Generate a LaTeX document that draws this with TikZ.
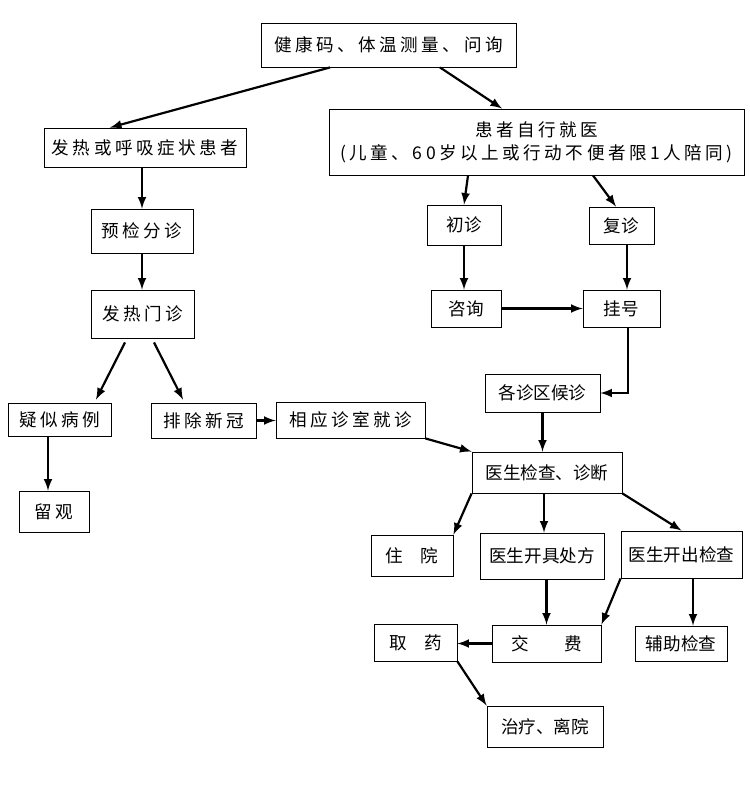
\documentclass[tikz,border=0pt]{standalone}
\usepackage{fontspec}
\setmainfont{Noto Sans CJK SC}
\newfontfamily\cjkwide[LetterSpace=20]{Noto Sans CJK SC}
\usetikzlibrary{arrows}

\begin{document}
\begin{tikzpicture}[x=0.02cm,y=-0.02cm,
  box/.style={draw, line width=0.5pt, inner sep=0pt, font=\fontsize{10pt}{13pt}\selectfont, align=center},
  wbox/.style={box, font=\fontsize{10pt}{13pt}\cjkwide},
  arr/.style={-latex, line width=1.25pt}]

\useasboundingbox (0,0) rectangle (750,791);

% left branch
\node[wbox, minimum width=5.1cm, minimum height=0.88cm] (check) at (388.5,45) {健康码、体温测量、问询};
\node[wbox, minimum width=4.04cm, minimum height=0.78cm] (fever) at (145,147.5) {发热或呼吸症状患者};
\node[wbox, minimum width=2.04cm, minimum height=0.88cm] (triage) at (142,231) {预检分诊};
\node[wbox, minimum width=2.06cm, minimum height=0.96cm] (clinic) at (142.5,314) {发热门诊};
\node[wbox, minimum width=2.06cm, minimum height=0.66cm] (suspect) at (59.5,419.5) {疑似病例};
\node[wbox, minimum width=1.4cm, minimum height=0.82cm] (observe) at (54,511.5) {留观};
\node[wbox, minimum width=2.1cm, minimum height=0.7cm] (exclude) at (203.5,420.5) {排除新冠};
\node[wbox, minimum width=2.98cm, minimum height=0.72cm] (dept) at (350.5,420) {相应诊室就诊};

% right branch
\node[wbox, minimum width=8.3cm, minimum height=1.32cm] (self) at (536.5,142) {患者自行就医\\(儿童、60岁以上或行动不便者限1人陪同)};
\node[box, minimum width=1.48cm, minimum height=0.8cm] (first) at (464,225) {初诊};
\node[box, minimum width=1.3cm, minimum height=0.74cm] (revisit) at (621.5,225.5) {复诊};
\node[box, minimum width=1.4cm, minimum height=0.74cm] (consult) at (466,308.5) {咨询};
\node[box, minimum width=1.54cm, minimum height=0.74cm] (register) at (621.5,308.5) {挂号};
\node[box, minimum width=2.3cm, minimum height=0.76cm] (wait) at (542.5,393) {各诊区候诊};
\node[box, minimum width=3.0cm, minimum height=0.82cm] (exam) at (547,472.5) {医生检查、诊断};
\node[box, minimum width=1.64cm, minimum height=0.82cm] (hosp) at (412,555.5) {住\hspace{1em}院};
\node[box, minimum width=2.48cm, minimum height=0.92cm] (presc) at (542,556) {医生开具处方};
\node[box, minimum width=2.42cm, minimum height=0.94cm] (order) at (681.5,554.5) {医生开出检查};
\node[box, minimum width=1.66cm, minimum height=0.74cm] (drug) at (415.5,642.5) {取\hspace{1em}药};
\node[box, minimum width=2.18cm, minimum height=0.74cm] (pay) at (546.5,643.5) {交\hspace{2em}费};
\node[box, minimum width=1.84cm, minimum height=0.7cm] (aux) at (681,643.5) {辅助检查};
\node[box, minimum width=2.32cm, minimum height=0.82cm] (treat) at (545,726.5) {治疗、离院};

\draw[arr] ([xshift=-1.17cm]check.south) -- ([xshift=-0.7cm]fever.north);
\draw[arr] ([xshift=1.03cm]check.south) -- ([xshift=-0.69cm]self.north);
\draw[arr] (triage.north |- fever.south) -- (triage.north);
\draw[arr] (triage.south) -- (triage.south |- clinic.north);
\draw[arr] ([xshift=-0.35cm,yshift=-0.08cm]clinic.south) -- ([xshift=0.73cm,yshift=0.06cm]suspect.north);
\draw[arr] ([xshift=0.23cm,yshift=-0.08cm]clinic.south) -- ([xshift=-0.41cm,yshift=0.06cm]exclude.north);
\draw[arr] ([xshift=-0.23cm]suspect.south) -- ([xshift=-0.23cm]suspect.south |- observe.north);
\draw[arr] (exclude.east) -- (exclude.east -| dept.west);
\draw[arr] (dept.south east) -- (exam.north west);

\draw[arr] ([xshift=-1.37cm]self.south) -- (first.north);
\draw[arr] ([xshift=1.13cm]self.south) -- ([xshift=-0.11cm]revisit.north);
\draw[arr] (first.south) -- (first.south |- consult.north);
\draw[arr] ([xshift=0.11cm]revisit.south) -- ([xshift=0.11cm]revisit.south |- register.north);
\draw[arr] (consult.east) -- (consult.east -| register.west);
\draw[arr] ([xshift=0.13cm]register.south) |- (wait.east);
\draw[arr] (wait.south) -- (wait.south |- exam.north);
\draw[arr] (exam.south west) -- (hosp.north east);
\draw[arr] ([xshift=-0.06cm]exam.south) -- ([xshift=-0.06cm]exam.south |- presc.north);
\draw[arr] (exam.south east) -- (order.north);
\draw[arr] (pay.north |- presc.south) -- (pay.north);
\draw[arr] (order.south west) -- (pay.north east);
\draw[arr] ([xshift=0.23cm]order.south) -- ([xshift=0.23cm]order.south |- aux.north);
\draw[arr] (pay.west) -- (pay.west -| drug.east);
\draw[arr] (drug.south east) -- (treat.north west);

\end{tikzpicture}
\end{document}
